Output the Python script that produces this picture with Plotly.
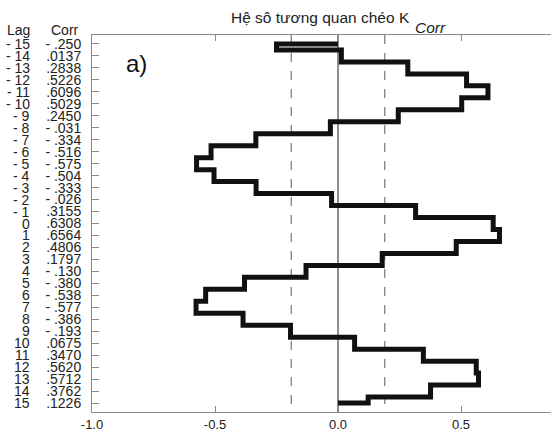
import plotly.graph_objects as go

lags = list(range(-15, 16))
corr = [-0.250, 0.0137, 0.2838, 0.5226, 0.6096, 0.5029, 0.2450, -0.031, -0.334, -0.516,
        -0.575, -0.504, -0.333, -0.026, 0.3155, 0.6308, 0.6564, 0.4806, 0.1797, -0.130,
        -0.380, -0.538, -0.577, -0.386, -0.193, 0.0675, 0.3470, 0.5620, 0.5712, 0.3762, 0.1226]
corr_labels = ["- .250", ".0137", ".2838", ".5226", ".6096", ".5029", ".2450", "- .031", "- .334", "- .516",
               "- .575", "- .504", "- .333", "- .026", ".3155", ".6308", ".6564", ".4806", ".1797", "- .130",
               "- .380", "- .538", "- .577", "- .386", "- .193", ".0675", ".3470", ".5620", ".5712", ".3762", ".1226"]
lag_labels = [("- %d" % -l) if l < 0 else str(l) for l in lags]
conf_limit = 0.19
x_ticks = [-1.0, -0.5, 0.0, 0.5]

W, H = 551, 435
ML, MR, MT, MB = 92, 0, 35, 23
PW, PH = W - ML - MR, H - MT - MB
FONT = "Liberation Sans, Arial, sans-serif"
TXT = "#222222"
AX = "#8a8a8a"


def px_x(px):
    return (px - ML) / PW


def px_y(py):
    return 1 - (py - MT) / PH


fig = go.Figure()

# confidence limits
for c in (-conf_limit, conf_limit):
    fig.add_trace(go.Scatter(x=[c, c], y=[-15.75, 15.75], mode="lines",
                             line=dict(color="#777777", width=1.2, dash="dash"),
                             hoverinfo="skip", showlegend=False))
# zero line
fig.add_trace(go.Scatter(x=[0, 0], y=[-15.75, 15.75], mode="lines",
                         line=dict(color="#444444", width=1.2),
                         hoverinfo="skip", showlegend=False))

# step outline
fig.add_trace(go.Scatter(x=[0] + corr + [0], y=[lags[0]] + lags + [lags[-1]],
                         mode="lines", line=dict(color="#111111", width=5, shape="vhv"),
                         showlegend=False))

annotations = []
for l, t in zip(lags, lag_labels):
    annotations.append(dict(xref="paper", yref="y", x=px_x(32), y=l, text=t,
                            xanchor="right", yanchor="middle", showarrow=False,
                            font=dict(family=FONT, size=14, color=TXT)))
annotations.append(dict(xref="paper", yref="paper", x=px_x(32), y=px_y(30),
                        text="Lag", xanchor="right", yanchor="middle", showarrow=False,
                        font=dict(family=FONT, size=14, color=TXT)))
annotations.append(dict(xref="paper", yref="paper", x=px_x(81), y=px_y(30),
                        text="Corr", xanchor="right", yanchor="middle", showarrow=False,
                        font=dict(family=FONT, size=14, color=TXT)))
annotations.append(dict(xref="paper", yref="paper", x=px_x(412), y=px_y(17),
                        text="Hệ sô tương quan chéo K", xanchor="right",
                        yanchor="middle", showarrow=False,
                        font=dict(family=FONT, size=15.5, color=TXT)))
annotations.append(dict(xref="paper", yref="paper", x=px_x(413), y=px_y(27),
                        text="<i>Corr</i>", xanchor="left",
                        yanchor="middle", showarrow=False,
                        font=dict(family=FONT, size=15.5, color=TXT)))
annotations.append(dict(xref="paper", yref="paper", x=px_x(124), y=px_y(63),
                        text="a)", xanchor="left", yanchor="middle", showarrow=False,
                        font=dict(family=FONT, size=24, color="#111111")))

fig.update_layout(
    width=W, height=H,
    margin=dict(l=ML, r=MR, t=MT, b=MB, autoexpand=False),
    paper_bgcolor="white", plot_bgcolor="white",
    annotations=annotations,
    xaxis=dict(range=[-1.0, PW / 246 - 1.0], tickvals=x_ticks,
               ticktext=["%.1f" % v for v in x_ticks], automargin=False,
               ticks="inside", ticklen=6, tickcolor=AX, showline=True, linecolor=AX,
               linewidth=1, mirror="allticks", showgrid=False, zeroline=False,
               tickfont=dict(family=FONT, size=13, color=TXT)),
    yaxis=dict(range=[15.75, -15.75], tickvals=lags, ticktext=corr_labels,
               automargin=False,
               ticks="inside", ticklen=7, tickcolor=AX, showline=True, linecolor=AX,
               linewidth=1, showgrid=False, zeroline=False, ticklabelstandoff=7,
               tickfont=dict(family=FONT, size=14, color=TXT)),
)

fig.write_html("out.html", config={"displayModeBar": False},
               post_script="document.body.style.margin='0';document.body.style.overflow='hidden';")
